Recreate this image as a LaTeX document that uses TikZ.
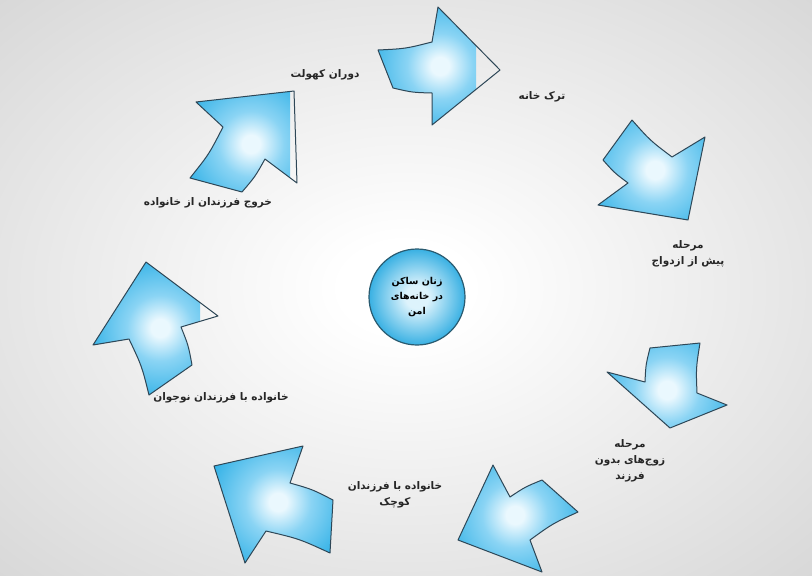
\documentclass[tikz,border=0pt]{standalone}
\usepackage{fontspec}
\usetikzlibrary{calc}
\TeXXeTstate=1
\newfontfamily\arabicfont[Script=Arabic]{DejaVu Sans}
\definecolor{ac0}{HTML}{EAF8FE}
\definecolor{ac1}{HTML}{8AD4F4}
\definecolor{ac2}{HTML}{22ABE4}
\definecolor{aedge}{HTML}{2E4757}
\definecolor{bgedge}{HTML}{C6C6C6}
\definecolor{cc0}{HTML}{DDF3FC}
\definecolor{cc2}{HTML}{1FA6DF}
\definecolor{cedge}{HTML}{2A5B70}
\pgfdeclareradialshading{arrowsh}{\pgfpoint{0bp}{0bp}}{color(0bp)=(ac0); color(3bp)=(ac0); color(11bp)=(ac1); color(27bp)=(ac2); color(50bp)=(ac2)}
\pgfdeclareradialshading{circsh}{\pgfpoint{0bp}{0bp}}{color(0bp)=(cc0); color(6bp)=(cc0); color(28bp)=(cc2); color(50bp)=(cc2)}
\pgfdeclareradialshading{bgsh}{\pgfpoint{0bp}{0bp}}{color(0bp)=(white); color(4bp)=(white); color(50bp)=(bgedge)}
\tikzset{
  arrowline/.style={draw=aedge, line width=1pt, line join=round},
  lbl/.style={font=\arabicfont\bfseries\fontsize{10.5}{16}\selectfont, text=black!85, align=center, inner sep=0pt},
  hub/.style={circle, minimum size=96pt, draw=cedge, line width=1.2pt, shading=circsh,
    font=\arabicfont\bfseries\fontsize{9.5}{15}\selectfont, align=center, inner sep=0pt},
}
\newcommand\arrowpath[7]{#1 .. controls ($#1!0.5!#2!0.1!-90:#2$) .. #2 -- #3 -- #4 -- #5 -- #6 .. controls ($#6!0.5!#7!0.1!90:#7$) .. #7 -- cycle}
\newcommand\cyclearrow[9]{%
  \begin{scope}
    \clip #9;
    \clip \arrowpath{#2}{#3}{#4}{#5}{#6}{#7}{#8};
    \shade[shading=arrowsh] ($#1+(-75,-75)$) rectangle ($#1+(75,75)$);
  \end{scope}
  \draw[arrowline] \arrowpath{#2}{#3}{#4}{#5}{#6}{#7}{#8};
}
\begin{document}
\begin{tikzpicture}[x=1pt,y=-1pt]
\useasboundingbox (0,0) rectangle (812,576);
\shade[shading=bgsh] (0,0) rectangle (812,576);
% top
\cyclearrow{(440,66)}{(378,50)}{(432,42)}{(438,7)}{(500,70)}{(432,125)}{(432,93)}{(393,88)}{(0,0) rectangle (476,576)}
% upper right
\cyclearrow{(655,170)}{(632,120)}{(672,157)}{(705,137)}{(688,220)}{(598,205)}{(628,183)}{(603,160)}{(0,0) rectangle (812,576)}
% lower right
\cyclearrow{(667,390)}{(700,343)}{(697,393)}{(727,405)}{(670,428)}{(607,372)}{(645,382)}{(650,348)}{(0,0) rectangle (812,576)}
% bottom
\cyclearrow{(515,515)}{(578,512)}{(530,540)}{(542,572)}{(458,540)}{(493,465)}{(510,497)}{(542,480)}{(0,0) rectangle (812,576)}
% bottom left
\cyclearrow{(278,502)}{(330,553)}{(266,531)}{(245,563)}{(214,466)}{(303,446)}{(290,483)}{(333,500)}{(0,0) rectangle (812,576)}
% left
\cyclearrow{(160,328)}{(149,395)}{(129,339)}{(93,345)}{(146,262)}{(218,316)}{(181,327)}{(192,365)}{(0,0) rectangle (200,576)}
% upper left
\cyclearrow{(251,144)}{(190,178)}{(223,127)}{(196,102)}{(294,91)}{(297,183)}{(265,159)}{(242,192)}{(0,0) rectangle (290,576)}

\node[hub, shade] (center) at (417,297) {\beginR زنان ساکن\endR\\\beginR در خانه‌های\endR\\\beginR امن\endR};

\node[lbl] (t1) at (325,75) {\beginR دوران کهولت\endR};
\node[lbl] (t2) at (542,97) {\beginR ترک خانه\endR};
\node[lbl] (t3) at (688,254) {\beginR مرحله\endR\\\beginR پیش از ازدواج\endR};
\node[lbl] (t4) at (630,461) {\beginR مرحله\endR\\\beginR زوج‌های بدون\endR\\\beginR فرزند\endR};
\node[lbl] (t5) at (395,495) {\beginR خانواده با فرزندان\endR\\\beginR کوچک\endR};
\node[lbl] (t6) at (221,398) {\beginR خانواده با فرزندان نوجوان\endR};
\node[lbl] (t7) at (208,203) {\beginR خروج فرزندان  از خانواده\endR};
\end{tikzpicture}
\end{document}
